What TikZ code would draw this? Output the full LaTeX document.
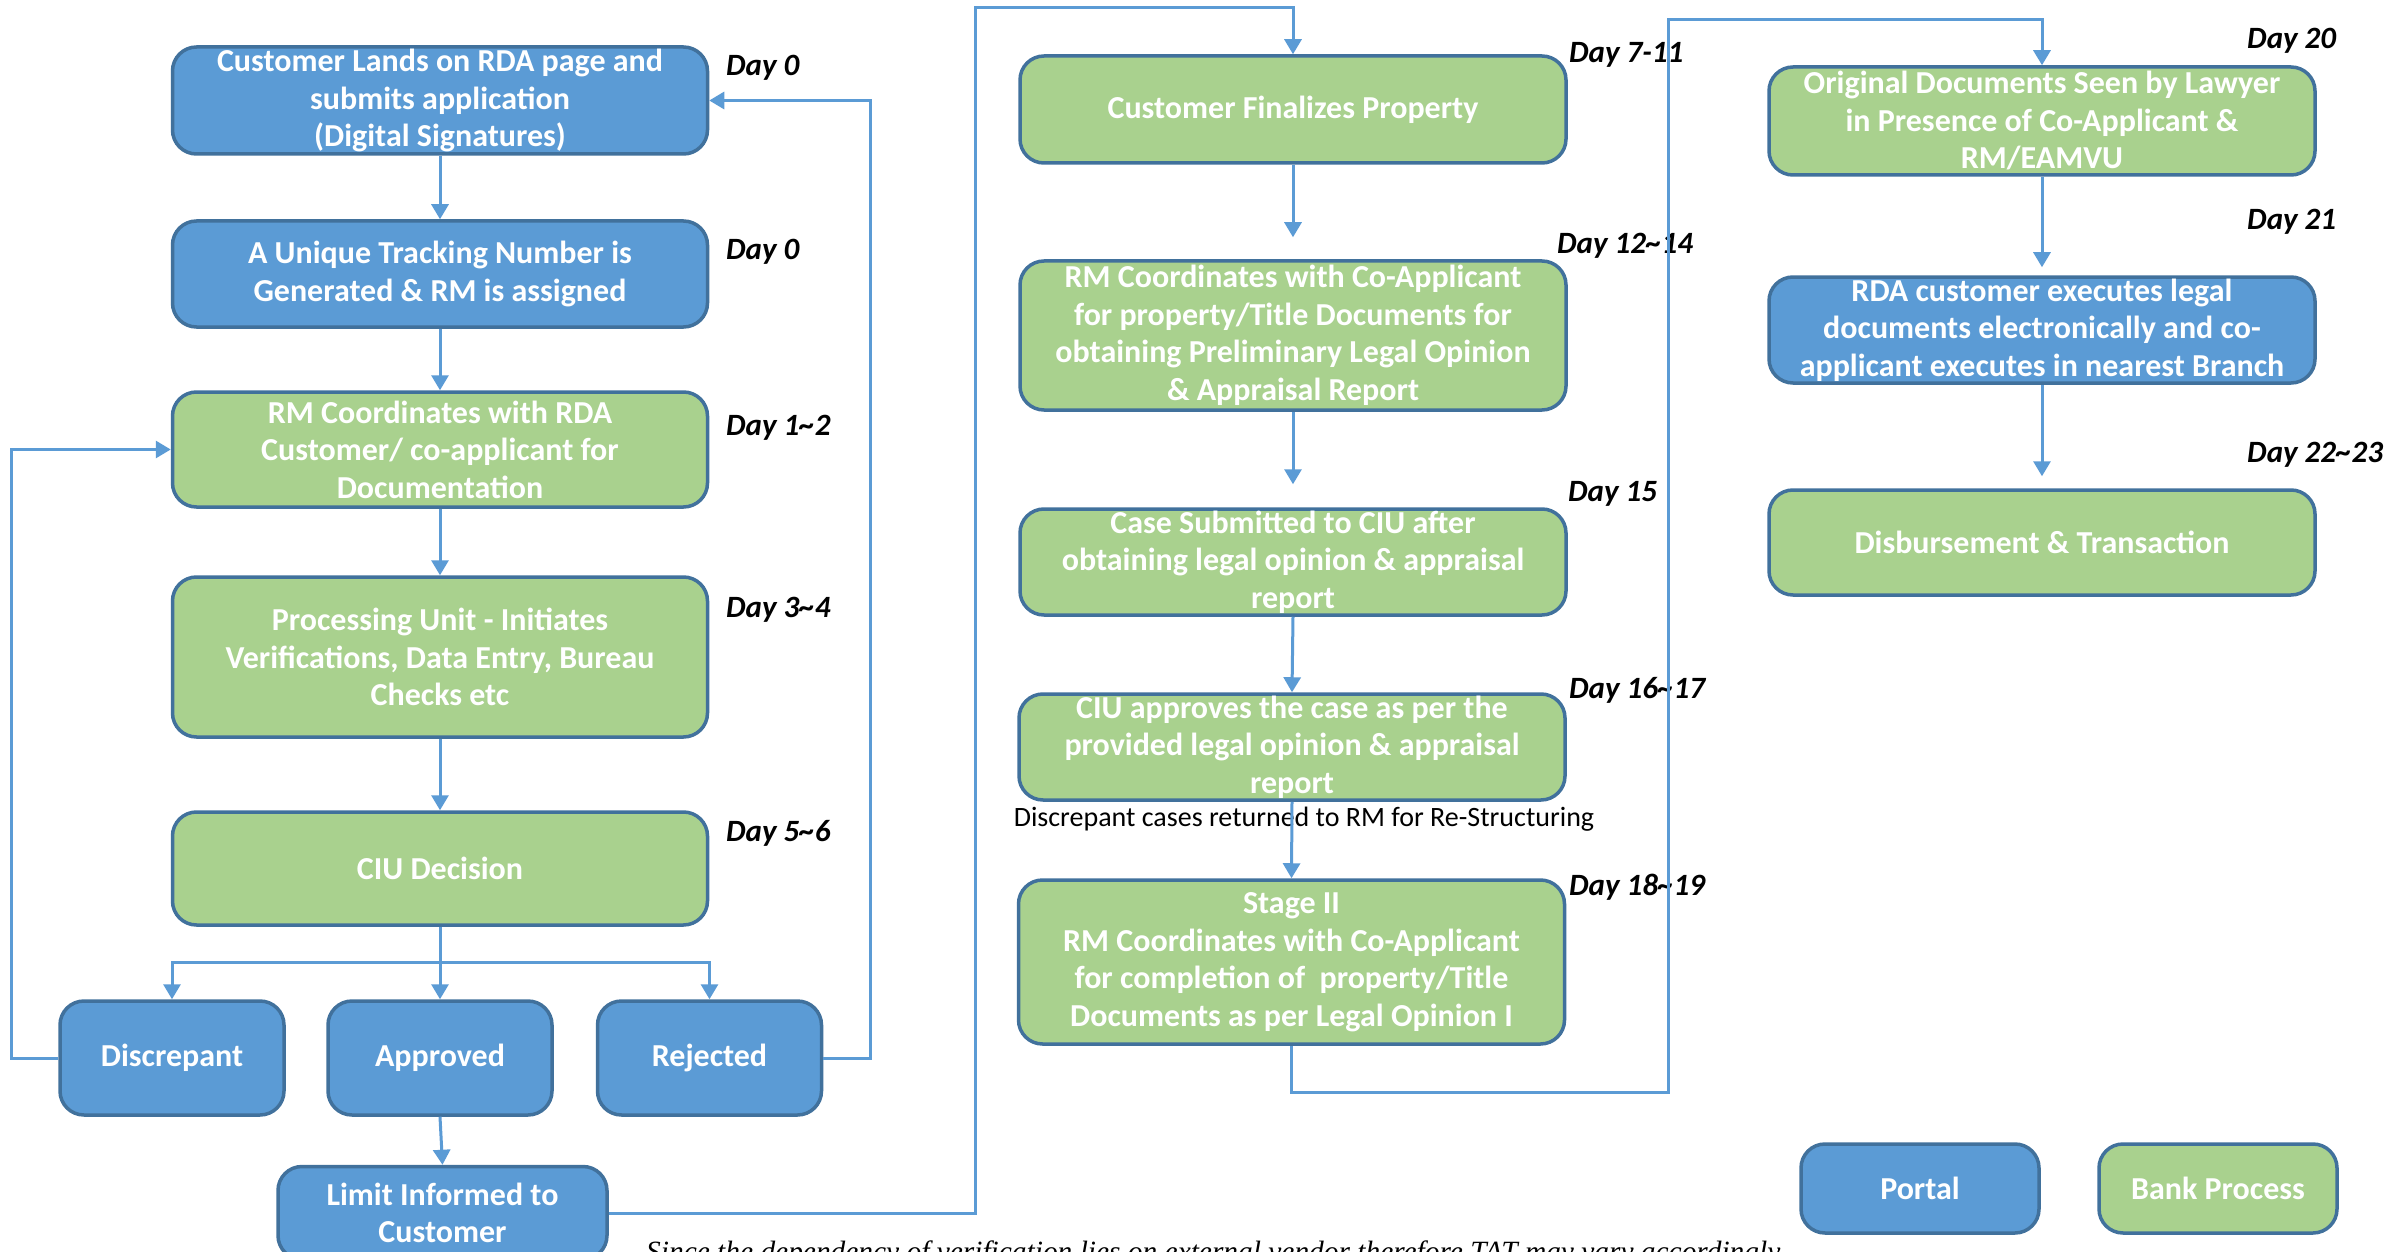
\documentclass[tikz,border=0pt]{standalone}
\usepackage{fontspec}
\setmainfont{Carlito}
\newfontfamily\notefont{Liberation Serif}
\usetikzlibrary{arrows.meta}
\definecolor{pblue}{HTML}{5B9BD5}
\definecolor{bborder}{HTML}{41719C}
\definecolor{pgreen}{HTML}{A9D18E}
\begin{document}
\begin{tikzpicture}[x=1pt,y=-1pt,
  box/.style={rounded corners=24pt, draw=bborder, line width=3.5pt, text=white,
    font=\fontsize{32}{37.5}\selectfont\bfseries, align=center, inner sep=0pt},
  bbox/.style={box, fill=pblue},
  gbox/.style={box, fill=pgreen},
  colA/.style={minimum width=535pt},
  colB/.style={minimum width=546pt},
  btn/.style={minimum width=224pt, minimum height=114pt},
  dayl/.style={anchor=west, inner sep=0pt, font=\fontsize{31}{36}\selectfont\bfseries\itshape},
  conn/.style={draw=pblue, line width=3pt},
  arr/.style={conn, -{Triangle[length=15pt,width=17pt]}}
]
\useasboundingbox (0,0) rectangle (2402,1252);
\fill[white] (0,0) rectangle (2402,1252);

% column 1
\node[bbox, colA, minimum height=107pt] (b1) at (440,100.5) {Customer Lands on RDA page and\\submits application\\(Digital Signatures)};
\node[bbox, colA, minimum height=106pt] (b2) at (440,274) {A Unique Tracking Number is\\Generated \& RM is assigned};
\node[gbox, colA, minimum height=115pt] (b3) at (440,449.5) {RM Coordinates with RDA\\Customer/ co-applicant for\\Documentation};
\node[gbox, colA, minimum height=160pt] (b4) at (440,657) {Processing Unit - Initiates\\Verifications, Data Entry, Bureau\\Checks etc};
\node[gbox, colA, minimum height=113pt] (b5) at (440,868.5) {CIU Decision};
\node[bbox, btn] (disc) at (172,1058) {Discrepant};
\node[bbox, btn] (appr) at (440,1058) {Approved};
\node[bbox, btn] (rej) at (709.5,1058) {Rejected};
\node[bbox, minimum width=329pt, minimum height=93pt] (limit) at (442.5,1213) {Limit Informed to\\Customer};

% column 2
\node[gbox, colB, minimum height=107pt] (c1) at (1293,109.5) {Customer Finalizes Property};
\node[gbox, colB, minimum height=149pt] (c2) at (1293,335.5) {RM Coordinates with Co-Applicant\\for property/Title Documents for\\obtaining Preliminary Legal Opinion\\\& Appraisal Report};
\node[gbox, colB, minimum height=106pt] (c3) at (1293,562) {Case Submitted to CIU after\\obtaining legal opinion \& appraisal\\report};
\node[gbox, colB, minimum height=106pt] (c4) at (1292,747) {CIU approves the case as per the\\provided legal opinion \& appraisal\\report};
\node[gbox, colB, minimum height=164pt] (c5) at (1291.5,962) {Stage II\\RM Coordinates with Co-Applicant\\for completion of\ \ property/Title\\Documents as per Legal Opinion I};

% column 3
\node[gbox, colB, minimum height=108pt] (d1) at (2042,121) {Original Documents Seen by Lawyer\\in Presence of Co-Applicant \&\\RM/EAMVU};
\node[bbox, colB, minimum height=106pt] (d2) at (2042,330) {RDA customer executes legal\\documents electronically and co-\\applicant executes in nearest Branch};
\node[gbox, colB, minimum height=105pt] (d3) at (2042,542.5) {Disbursement \& Transaction};

% legend
\node[bbox, minimum width=238pt, minimum height=89pt] (portal) at (1920,1188.5) {Portal};
\node[gbox, minimum width=238pt, minimum height=89pt] (bank) at (2218,1188.5) {Bank Process};

% day labels
\node[dayl] (dA) at (726,68) {Day 0};
\node[dayl] (dB) at (726,252) {Day 0};
\node[dayl] (dC) at (726,428) {Day 1\textasciitilde2};
\node[dayl] (dD) at (726,610) {Day 3\textasciitilde4};
\node[dayl] (dE) at (726,833) {Day 5\textasciitilde6};
\node[dayl] (dF) at (1569,55) {Day 7-11};
\node[dayl] (dG) at (1557,246) {Day 12\textasciitilde14};
\node[dayl] (dH) at (1568,494) {Day 15};
\node[dayl] (dI) at (1569,690) {Day 16\textasciitilde17};
\node[dayl] (dJ) at (1569,887) {Day 18\textasciitilde19};
\node[dayl] (dK) at (2247,41) {Day 20};
\node[dayl] (dL) at (2247,222) {Day 21};
\node[dayl] (dM) at (2247,455) {Day 22\textasciitilde23};

% notes
\node[font=\fontsize{28}{32}\selectfont, text=black, inner sep=0pt] (dnote) at (1304,819) {Discrepant cases returned to RM for Re-Structuring};
\node[anchor=north west, inner sep=0pt, font=\fontsize{29.4}{34}\selectfont\notefont\itshape] (note) at (646,1241) {Since the dependency of verification lies on external vendor therefore TAT may vary accordingly.};

% coordinates
\coordinate (j) at (440,962.6);
\coordinate (lx) at (11.5,0);
\coordinate (rx) at (870,0);
\coordinate (t1) at (975,8);
\coordinate (t2) at (1668,1092);
\coordinate (t3) at (1668,20);

% connectors column 1
\draw[arr] (b1.south) -- (b2.north);
\draw[arr] (b2.south) -- (b3.north);
\draw[arr] (b3.south) -- (b4.north);
\draw[arr] (b4.south) -- (b5.north);
\draw[conn] (b5.south) -- (j);
\draw[arr] (j) -- (appr.north);
\draw[arr] (j) -| (disc.north);
\draw[arr] (j) -| (rej.north);
\draw[arr] (disc.west) -- (disc.west -| lx) |- (b3.west);
\draw[arr] (rej.east) -- (rej.east -| rx) |- (b1.east);
\draw[arr] (appr.south) -- (limit.north);
\draw[arr] (limit.east) -| (t1) -| (c1.north);

% connectors column 2
\draw[arr, shorten >=22pt] (c1.south) -- (c2.north);
\draw[arr, shorten >=23pt] (c2.south) -- (c3.north);
\draw[arr] (c3.south) -- (c4.north);
\draw[arr] (c4.south) -- (c5.north);
\draw[arr] (c5.south) |- (t2) -- (t3) -| (d1.north);

% connectors column 3
\draw[arr, shorten >=8pt] (d1.south) -- (d2.north);
\draw[arr, shorten >=12pt] (d2.south) -- (d3.north);
\end{tikzpicture}
\end{document}
